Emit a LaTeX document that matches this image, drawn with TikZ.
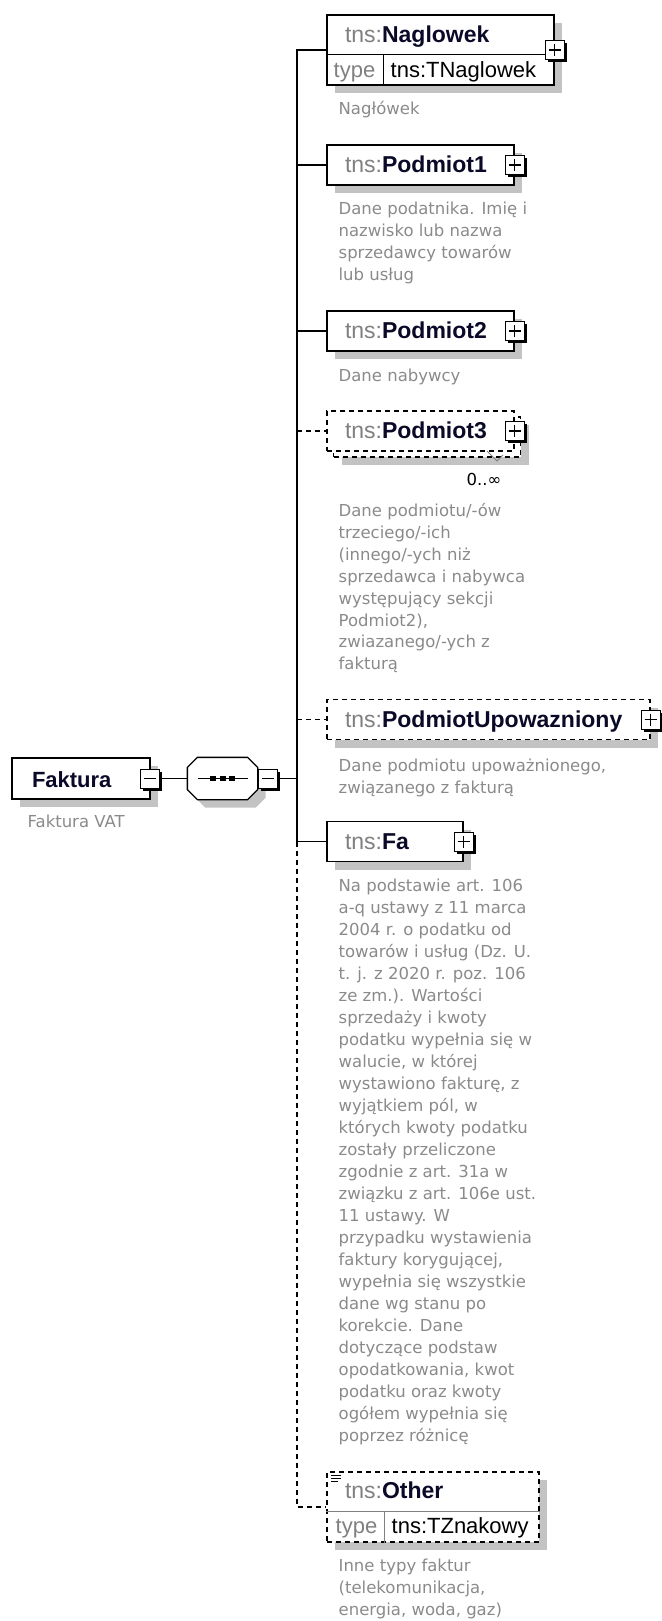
\documentclass[tikz,border=0pt]{standalone}
\usepackage{fontspec}
\setmainfont{Liberation Sans}
\newfontfamily\descfont{DejaVu Sans}
\usetikzlibrary{calc,positioning,shadows}
\definecolor{xs-prefix}{HTML}{808080}
\definecolor{xs-name}{HTML}{0A0A28}
\definecolor{xs-desc}{HTML}{8A8A8A}
\definecolor{xs-shadow}{HTML}{C3C3C3}
\newcommand{\tnsname}[1]{{\color{xs-prefix}tns:}{\color{xs-name}\bfseries #1}}

\begin{document}
\begin{tikzpicture}[x=1pt, y=-1pt, line width=1.3pt,
    box/.style={draw, fill=white, inner sep=0pt},
    elem/.style={box, general shadow={draw=none, fill=xs-shadow, shadow xshift=8pt, shadow yshift=-8pt}},
    optline/.style={dash pattern=on 5pt off 4pt},
    optelem/.style={elem, optline},
    title/.style={font=\fontsize{23}{23}\selectfont, inner sep=0pt, anchor=base west},
    typetext/.style={font=\fontsize{22}{22}\selectfont, inner sep=0pt, anchor=base west},
    desc/.style={font=\descfont\fontsize{16.5}{21.9}\selectfont, text=xs-desc, align=left, inner sep=0pt, anchor=base west},
    pmbox/.style={draw, solid, fill=white, minimum size=19pt, inner sep=0pt, line width=1pt,
        general shadow={draw=none, fill=black, shadow xshift=2.5pt, shadow yshift=-2.5pt}},
    plusbox/.style={pmbox, path picture={\draw[line width=1.2pt]
        ([xshift=3.5pt]path picture bounding box.west) -- ([xshift=-3.5pt]path picture bounding box.east)
        ([yshift=3.5pt]path picture bounding box.south) -- ([yshift=-3.5pt]path picture bounding box.north);}},
    minusbox/.style={pmbox, path picture={\draw[line width=1.2pt]
        ([xshift=3.5pt]path picture bounding box.west) -- ([xshift=-3.5pt]path picture bounding box.east);}}]
    \useasboundingbox (0,0) rectangle (661,1621);

    \node[elem, minimum width=138pt, minimum height=41pt] (faktura) at (81,778.5) {};
    \node[title, font=\fontsize{22}{22}\selectfont\bfseries, text=xs-name] (fakturat) at ([xshift=20pt, yshift=-8.5pt]faktura.west) {Faktura};
    \node[minusbox] (fakminus) at ([xshift=-1pt]faktura.east) {};
    \node[desc] (fakturad) at (27,827.5) {Faktura VAT};

    \node[inner sep=0pt, minimum width=69pt, minimum height=41pt] (seq) at (222.5,778.5) {};
    \fill[xs-shadow] ($(seq.north west)+(18,8)$) -- ($(seq.north east)+(-2,8)$) -- ($(seq.north east)+(8,18)$) -- ($(seq.south east)+(8,-2)$)
        -- ($(seq.south east)+(-2,8)$) -- ($(seq.south west)+(18,8)$) -- ($(seq.south west)+(8,-2)$) -- ($(seq.north west)+(8,18)$) -- cycle;
    \draw[fill=white] ($(seq.north west)+(10,0)$) -- ($(seq.north east)+(-10,0)$) -- ($(seq.north east)+(0,10)$) -- ($(seq.south east)+(0,-10)$)
        -- ($(seq.south east)+(-10,0)$) -- ($(seq.south west)+(10,0)$) -- ($(seq.south west)+(0,-10)$) -- ($(seq.north west)+(0,10)$) -- cycle;
    \draw[line width=1.2pt] ([xshift=-25pt]seq.center) -- ([xshift=25pt]seq.center);
    \foreach \dx in {-9.5,0,9.5} \fill ([xshift=\dx pt]seq.center) +(-3,-2.5) rectangle +(3,2.5);
    \node[minusbox] (seqminus) at ([xshift=10.5pt]seq.east) {};
    \coordinate (bus) at (297,778.5);

    \node[elem, minimum width=227pt, minimum height=70pt] (nag) at (440.5,50) {};
    \node[title] (nagt) at ([xshift=18pt, yshift=-28pt]nag.north west) {\tnsname{Naglowek}};
    \draw[line width=1pt] ([yshift=-40pt]nag.north west) -- ([yshift=-40pt]nag.north east) (383,55) -- (nag.south -| 383,0);
    \node[typetext, text=xs-prefix] (nagtype) at (333,78) {type};
    \node[typetext] (nagtypename) at (390,78) {tns:TNaglowek};
    \node[plusbox] (nagplus) at (nag.east) {};
    \node[desc] (nagd) at (338,114.5) {Nagłówek};

    \node[elem, minimum width=187pt, minimum height=40pt] (pod1) at (420.5,165) {};
    \node[title] (pod1t) at ([xshift=18pt, yshift=-7.5pt]pod1.west) {\tnsname{Podmiot1}};
    \node[plusbox] (pod1plus) at (pod1.east) {};
    \node[desc] (pod1d) at (338,280.2) {Dane podatnika. Imię i\\nazwisko lub nazwa\\sprzedawcy towarów\\lub usług};

    \node[elem, minimum width=187pt, minimum height=40pt] (pod2) at (420.5,331) {};
    \node[title] (pod2t) at ([xshift=18pt, yshift=-7.5pt]pod2.west) {\tnsname{Podmiot2}};
    \node[plusbox] (pod2plus) at (pod2.east) {};
    \node[desc] (pod2d) at (338,381.5) {Dane nabywcy};

    \node[optelem, minimum width=187pt, minimum height=40pt] (pod3back) at (427,437) {};
    \node[box, optline, minimum width=187pt, minimum height=40pt] (pod3) at (420.5,431) {};
    \node[title] (pod3t) at ([xshift=18pt, yshift=-7.5pt]pod3.west) {\tnsname{Podmiot3}};
    \node[plusbox] (pod3plus) at (pod3.east) {};
    \draw[line width=0.8pt, xs-prefix] (487,451) -- (497,461) -- (503,455);
    \node[font=\descfont\fontsize{16.5}{16.5}\selectfont, inner sep=0pt, anchor=base] (pod3mult) at (484,485) {0..∞};
    \node[desc] (pod3d) at (338,669.8) {Dane podmiotu/-ów\\trzeciego/-ich\\(innego/-ych niż\\sprzedawca i nabywca\\występujący sekcji\\Podmiot2),\\zwiazanego/-ych z\\fakturą};

    \node[optelem, minimum width=323pt, minimum height=40pt] (podup) at (488.5,719.5) {};
    \node[title] (podupt) at ([xshift=18pt, yshift=-7.5pt]podup.west) {\tnsname{PodmiotUpowazniony}};
    \node[plusbox] (podupplus) at (podup.east) {};
    \node[desc] (podupd) at (338,793.4) {Dane podmiotu upoważnionego,\\związanego z fakturą};

    \node[elem, minimum width=136pt, minimum height=40pt] (fa) at (395,841.5) {};
    \node[title] (fat) at ([xshift=18pt, yshift=-7.5pt]fa.west) {\tnsname{Fa}};
    \node[plusbox] (faplus) at (fa.east) {};
    \node[desc, font=\descfont\fontsize{16.5}{22}\selectfont] (fad) at (338,1441.5) {Na podstawie art. 106\\a-q ustawy z 11 marca\\2004 r. o podatku od\\towarów i usług (Dz. U.\\t. j. z 2020 r. poz. 106\\ze zm.). Wartości\\sprzedaży i kwoty\\podatku wypełnia się w\\walucie, w której\\wystawiono fakturę, z\\wyjątkiem pól, w\\których kwoty podatku\\zostały przeliczone\\zgodnie z art. 31a w\\związku z art. 106e ust.\\11 ustawy. W\\przypadku wystawienia\\faktury korygującej,\\wypełnia się wszystkie\\dane wg stanu po\\korekcie. Dane\\dotyczące podstaw\\opodatkowania, kwot\\podatku oraz kwoty\\ogółem wypełnia się\\poprzez różnicę};

    \node[optelem, minimum width=212pt, minimum height=70pt] (other) at (433,1507) {};
    \draw[line width=1pt, xs-prefix] ([yshift=-40pt]other.north west) -- ([yshift=-40pt]other.north east) (384,1512) -- (other.south -| 384,0);
    \draw[line width=1pt] (331,1475) -- (341,1475) (331,1478) -- (341,1478) (331,1481) -- (338,1481);
    \node[title] (othert) at ([xshift=18pt, yshift=-27pt]other.north west) {\tnsname{Other}};
    \node[typetext, text=xs-prefix] (othertype) at (335,1533) {type};
    \node[typetext] (othertypename) at (391,1533) {tns:TZnakowy};
    \node[desc] (otherd) at (338,1615.3) {Inne typy faktur\\(telekomunikacja,\\energia, woda, gaz)};

    \draw (fakminus.east) -- (seq.west);
    \draw (seqminus.east) -- (bus);
    \draw (nag.west) -- (bus |- nag.west) -- (bus |- fa.west) -- (fa.west);
    \draw (bus |- pod1.west) -- (pod1.west); \draw (bus |- pod2.west) -- (pod2.west);
    \draw[optline] (bus |- pod3.west) -- (pod3.west); \draw[optline] (bus |- podup.west) -- (podup.west);
    \draw[optline] (bus |- fa.west) -- (bus |- other.west) -- (other.west);
\end{tikzpicture}
\end{document}
